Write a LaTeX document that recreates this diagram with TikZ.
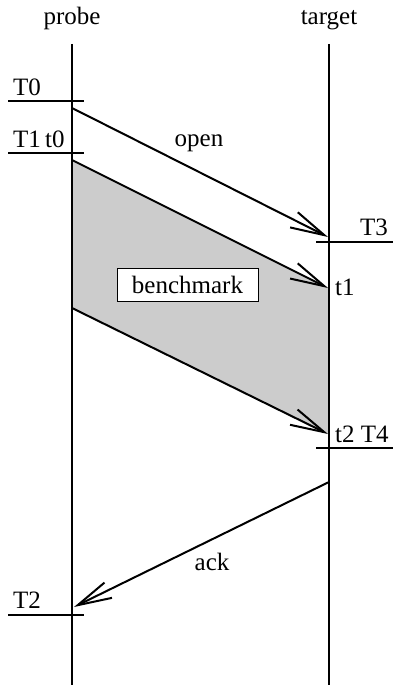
\documentclass[tikz,border=0pt]{standalone}
\usepackage{fontspec}
\setmainfont{Liberation Serif}
\usetikzlibrary{arrows.meta}
\definecolor{benchgray}{RGB}{204,204,204}
\begin{document}
\begin{tikzpicture}[x=1pt,y=-1pt,
  font=\fontsize{25}{30}\selectfont,
  life/.style={line width=2pt},
  tick/.style={line width=2pt},
  msg/.style={line width=2pt,-{Straight Barb[length=34pt,width=17pt,line width=2pt]}},
  lbl/.style={inner sep=0pt,anchor=base west},
  lblc/.style={inner sep=0pt,anchor=base}]
\useasboundingbox (0,0) rectangle (393,685);
% gray benchmark region
\fill[benchgray] (72,160) -- (329,288) -- (329,434) -- (72,308) -- cycle;
% coordinates
\coordinate (pTop) at (72,44);
\coordinate (pBot) at (72,685);
\coordinate (tTop) at (329,44);
\coordinate (tBot) at (329,685);
\coordinate (openS) at (72,108);
\coordinate (openE) at (328,237);
\coordinate (b1S) at (72,160);
\coordinate (b1E) at (328,288);
\coordinate (b2S) at (72,308);
\coordinate (b2E) at (328,434);
\coordinate (ackS) at (329,482);
\coordinate (ackE) at (74,607);
\coordinate (t0L) at (8,101); \coordinate (t0R) at (84,101);
\coordinate (t1L) at (8,153); \coordinate (t1R) at (84,153);
\coordinate (t3L) at (316,242); \coordinate (t3R) at (393,242);
\coordinate (t4L) at (316,448); \coordinate (t4R) at (393,448);
\coordinate (t2L) at (8,615); \coordinate (t2R) at (84,615);
% lifelines
\draw[life] (pTop) -- (pBot);
\draw[life] (tTop) -- (tBot);
% ticks
\draw[tick] (t0L) -- (t0R);
\draw[tick] (t1L) -- (t1R);
\draw[tick] (t3L) -- (t3R);
\draw[tick] (t4L) -- (t4R);
\draw[tick] (t2L) -- (t2R);
% messages
\draw[msg] (openS) -- (openE);
\draw[msg] (b1S) -- (b1E);
\draw[msg] (b2S) -- (b2E);
\draw[msg] (ackS) -- (ackE);
% labels
\node[lblc] (probe) at (72,25) {probe};
\node[lblc] (target) at (329,25) {target};
\node[lbl] (T0) at (13,95) {T0};
\node[lbl] (T1) at (13,147) {T1\,t0};
\node[lblc] (open) at (199,146) {open};
\node[lbl] (T3) at (360,235) {T3};
\node[lbl] (t1) at (335,295) {t1};
\node[lbl] (t2) at (335,442) {t2 T4};
\node[lblc] (ack) at (212,570) {ack};
\node[lbl] (T2) at (13,608) {T2};
\node[draw,fill=white,line width=1pt,minimum width=141pt,minimum height=33pt,inner sep=0pt] (bench) at (187.5,284.5) {benchmark};
\end{tikzpicture}
\end{document}
